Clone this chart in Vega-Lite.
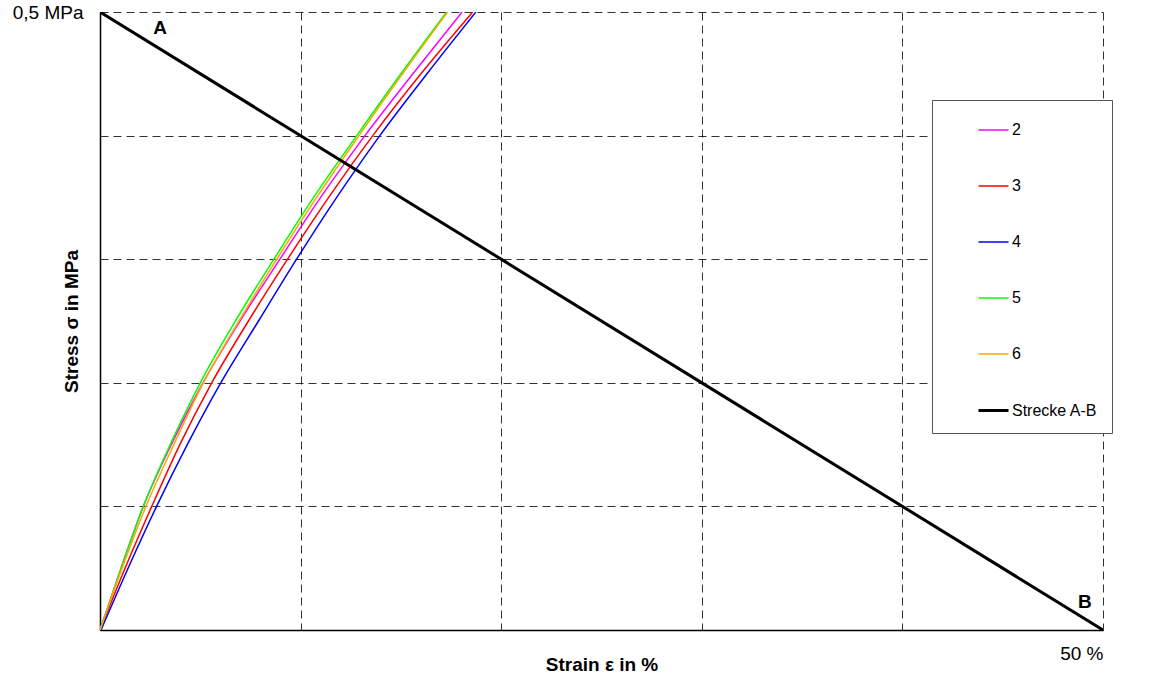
{
  "$schema": "https://vega.github.io/schema/vega-lite/v6.json",
  "width": 1003,
  "height": 618,
  "autosize": {"type": "none"},
  "padding": {"left": 100, "top": 12, "right": 55, "bottom": 45},
  "background": "white",
  "config": {
    "font": "Liberation Sans",
    "view": {"stroke": null},
    "axis": {
      "grid": true,
      "gridColor": "#000000",
      "gridOpacity": 0.8,
      "gridDash": [8, 5],
      "gridWidth": 1,
      "ticks": false,
      "domainColor": "#000000",
      "domainWidth": 1.5,
      "labelFont": "Liberation Sans",
      "labelFontSize": 19,
      "labelColor": "#000000",
      "titleFont": "Liberation Sans",
      "titleFontSize": 19,
      "titleFontWeight": "bold",
      "titleColor": "#000000"
    },
    "legend": {
      "labelFontSize": 16,
      "labelFont": "Liberation Sans",
      "labelColor": "#000000",
      "symbolType": "stroke",
      "symbolSize": 900,
      "labelOffset": 2,
      "rowPadding": 32,
      "symbolOffset": 31,
      "padding": 14,
      "fillColor": "#FFFFFF",
      "strokeColor": "#555555"
    }
  },
  "datasets": {
    "curves": [
      {"series": "2", "strain": 0, "stress": 0},
      {"series": "2", "strain": 1.05, "stress": 0.05},
      {"series": "2", "strain": 2.16, "stress": 0.1},
      {"series": "2", "strain": 3.55, "stress": 0.15},
      {"series": "2", "strain": 5.13, "stress": 0.2},
      {"series": "2", "strain": 6.98, "stress": 0.25},
      {"series": "2", "strain": 8.97, "stress": 0.3},
      {"series": "2", "strain": 11.0, "stress": 0.35},
      {"series": "2", "strain": 13.21, "stress": 0.4},
      {"series": "2", "strain": 15.6, "stress": 0.45},
      {"series": "2", "strain": 18.05, "stress": 0.5},
      {"series": "3", "strain": 0, "stress": 0},
      {"series": "3", "strain": 1.25, "stress": 0.05},
      {"series": "3", "strain": 2.58, "stress": 0.1},
      {"series": "3", "strain": 3.98, "stress": 0.15},
      {"series": "3", "strain": 5.57, "stress": 0.2},
      {"series": "3", "strain": 7.4, "stress": 0.25},
      {"series": "3", "strain": 9.35, "stress": 0.3},
      {"series": "3", "strain": 11.4, "stress": 0.35},
      {"series": "3", "strain": 13.6, "stress": 0.4},
      {"series": "3", "strain": 16.0, "stress": 0.45},
      {"series": "3", "strain": 18.58, "stress": 0.5},
      {"series": "4", "strain": 0.05, "stress": 0},
      {"series": "4", "strain": 1.4, "stress": 0.05},
      {"series": "4", "strain": 2.82, "stress": 0.1},
      {"series": "4", "strain": 4.35, "stress": 0.15},
      {"series": "4", "strain": 6.02, "stress": 0.2},
      {"series": "4", "strain": 7.9, "stress": 0.25},
      {"series": "4", "strain": 9.8, "stress": 0.3},
      {"series": "4", "strain": 11.8, "stress": 0.35},
      {"series": "4", "strain": 13.95, "stress": 0.4},
      {"series": "4", "strain": 16.3, "stress": 0.45},
      {"series": "4", "strain": 18.74, "stress": 0.5},
      {"series": "5", "strain": 0, "stress": 0},
      {"series": "5", "strain": 1.05, "stress": 0.05},
      {"series": "5", "strain": 2.16, "stress": 0.1},
      {"series": "5", "strain": 3.5, "stress": 0.15},
      {"series": "5", "strain": 5.0, "stress": 0.2},
      {"series": "5", "strain": 6.75, "stress": 0.25},
      {"series": "5", "strain": 8.67, "stress": 0.3},
      {"series": "5", "strain": 10.65, "stress": 0.35},
      {"series": "5", "strain": 12.8, "stress": 0.4},
      {"series": "5", "strain": 15.0, "stress": 0.45},
      {"series": "5", "strain": 17.28, "stress": 0.5},
      {"series": "6", "strain": 0, "stress": 0},
      {"series": "6", "strain": 1.1, "stress": 0.05},
      {"series": "6", "strain": 2.29, "stress": 0.1},
      {"series": "6", "strain": 3.68, "stress": 0.15},
      {"series": "6", "strain": 5.15, "stress": 0.2},
      {"series": "6", "strain": 6.93, "stress": 0.25},
      {"series": "6", "strain": 8.81, "stress": 0.3},
      {"series": "6", "strain": 10.8, "stress": 0.35},
      {"series": "6", "strain": 12.91, "stress": 0.4},
      {"series": "6", "strain": 15.08, "stress": 0.45},
      {"series": "6", "strain": 17.33, "stress": 0.5},
      {"series": "Strecke A-B", "strain": 0, "stress": 0.5},
      {"series": "Strecke A-B", "strain": 50, "stress": 0}
    ],
    "points": [
      {"label": "A", "strain": 3.0, "stress": 0.487},
      {"label": "B", "strain": 49.1, "stress": 0.023}
    ]
  },
  "layer": [
    {
      "data": {"name": "curves"},
      "mark": {"type": "line", "clip": true, "interpolate": "monotone"},
      "encoding": {
        "x": {
          "field": "strain", "type": "quantitative",
          "scale": {"domain": [0, 50], "nice": false},
          "axis": {
            "values": [0, 10, 20, 30, 40, 50],
            "labelExpr": "datum.value == 50 ? '50 %' : ''",
            "labelAlign": "right",
            "labelDx": 6,
            "labelPadding": 14,
            "labelBaseline": "top",
            "title": "Strain ε in %",
            "titleBaseline": "alphabetic",
            "titleY": 40
          }
        },
        "y": {
          "field": "stress", "type": "quantitative",
          "scale": {"domain": [0, 0.5], "nice": false},
          "axis": {
            "values": [0, 0.1, 0.2, 0.3, 0.4, 0.5],
            "labelExpr": "datum.value == 0.5 ? '0,5 MPa' : ''",
            "labelBaseline": "middle",
            "labelDy": 16,
            "labelPadding": 17,
            "title": "Stress σ in MPa",
            "titleBaseline": "alphabetic",
            "titleX": -23
          }
        },
        "color": {
          "field": "series", "type": "nominal",
          "scale": {
            "domain": ["2", "3", "4", "5", "6", "Strecke A-B"],
            "range": ["#FF00FF", "#FF0000", "#0000FF", "#00FF00", "#FFA500", "#000000"]
          },
          "legend": {
            "title": null,
            "orient": "none",
            "legendX": 832,
            "legendY": 88
          }
        },
        "strokeWidth": {
          "field": "series", "type": "ordinal",
          "scale": {
            "type": "ordinal",
            "domain": ["2", "3", "4", "5", "6", "Strecke A-B"],
            "range": [1.5, 1.5, 1.5, 1.5, 1.5, 3]
          },
          "legend": {
            "title": null,
            "orient": "none",
            "legendX": 832,
            "legendY": 88
          }
        }
      }
    },
    {
      "data": {"name": "points"},
      "mark": {"type": "text", "font": "Liberation Sans", "fontWeight": "bold", "fontSize": 19, "color": "#000000", "align": "center", "baseline": "middle"},
      "encoding": {
        "x": {"field": "strain", "type": "quantitative"},
        "y": {"field": "stress", "type": "quantitative"},
        "text": {"field": "label", "type": "nominal"}
      }
    }
  ]
}
